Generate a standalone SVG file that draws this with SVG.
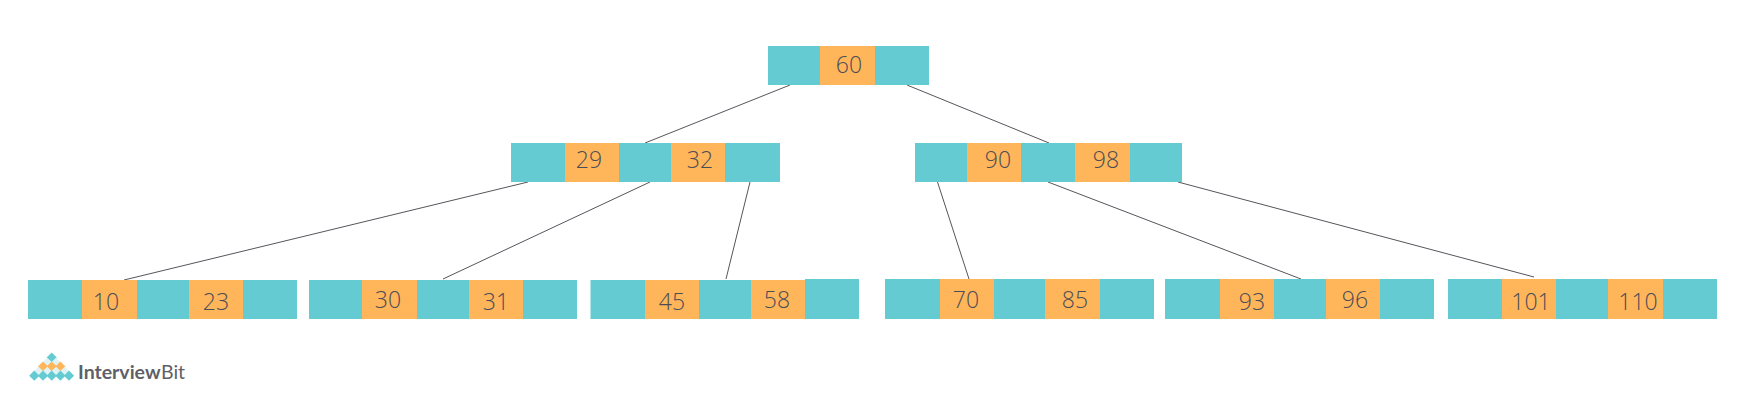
<svg xmlns="http://www.w3.org/2000/svg" width="1746" height="420" viewBox="0 0 1746 420">
<style>
.t{fill:#64cbd2}.o{fill:#ffb55a}
.n{font-family:"Open Sans","Noto Sans",sans-serif;font-weight:300;font-size:23px;fill:#4c4c56;text-anchor:middle}
#connectors line{stroke:#55555c;stroke-width:1}
.dt{fill:#64cbd2}.do{fill:#ffb55a}.dl{fill:#dff3f4}
.lg{font-family:Lato,"Noto Sans",sans-serif;font-size:19.500px;fill:#5f5f68}
</style>
<defs><rect id="d" x="-5" y="-5" width="10" height="10" transform="rotate(45)"/></defs>
<rect width="1746" height="420" fill="#fff"/>
<g id="connectors">
<line x1="790" y1="85" x2="645" y2="143"/><line x1="907" y1="85" x2="1049" y2="143"/>
<line x1="528" y1="182" x2="124" y2="280"/><line x1="650" y1="182" x2="443" y2="279"/><line x1="750" y1="182" x2="726" y2="279"/>
<line x1="937.500" y1="182" x2="969" y2="279"/><line x1="1048" y1="182" x2="1301" y2="279"/><line x1="1178" y1="182" x2="1534" y2="277"/>
</g>
<g id="n60"><rect class="t" x="768" y="46" width="161" height="39"/><rect class="o" x="820" y="46" width="55" height="39"/><text class="n" x="849" y="73">60</text></g>
<g id="n29-32"><rect class="t" x="511" y="143" width="269" height="39"/><rect class="o" x="565" y="143" width="54" height="39"/><rect class="o" x="671" y="143" width="54" height="39"/><text class="n" x="589" y="168">29</text><text class="n" x="700" y="168">32</text></g>
<g id="n90-98"><rect class="t" x="915" y="143" width="267" height="39"/><rect class="o" x="967" y="143" width="54" height="39"/><rect class="o" x="1075" y="143" width="55" height="39"/><text class="n" x="998" y="168">90</text><text class="n" x="1106" y="168">98</text></g>
<g id="n10-23"><rect class="t" x="28" y="280" width="269" height="39"/><rect class="o" x="82" y="280" width="55" height="39"/><rect class="o" x="189" y="280" width="54" height="39"/><text class="n" x="106" y="310">10</text><text class="n" x="216" y="310">23</text></g>
<g id="n30-31"><rect class="t" x="309" y="280" width="268" height="39"/><rect class="o" x="362" y="280" width="55" height="39"/><rect class="o" x="469" y="280" width="54" height="39"/><text class="n" x="388" y="308">30</text><text class="n" x="496" y="310">31</text></g>
<g id="n45-58"><rect class="t" x="590.500" y="280" width="215" height="39"/><rect class="t" x="805" y="279" width="54" height="40"/><rect class="o" x="645" y="280" width="54" height="39"/><rect class="o" x="751" y="280" width="54" height="39"/><text class="n" x="672" y="310">45</text><text class="n" x="777" y="308">58</text></g>
<g id="n70-85"><rect class="t" x="885" y="279" width="269" height="40"/><rect class="o" x="940" y="279" width="54" height="40"/><rect class="o" x="1045" y="279" width="55" height="40"/><text class="n" x="966" y="308">70</text><text class="n" x="1075" y="308">85</text></g>
<g id="n93-96"><rect class="t" x="1165" y="279" width="269" height="40"/><rect class="o" x="1220" y="279" width="54" height="40"/><rect class="o" x="1326" y="279" width="54" height="40"/><text class="n" x="1252" y="310">93</text><text class="n" x="1355" y="308">96</text></g>
<g id="n101-110"><rect class="t" x="1448" y="279" width="269" height="40"/><rect class="o" x="1502" y="279" width="54" height="40"/><rect class="o" x="1608" y="279" width="55" height="40"/><text class="n" x="1531" y="310">101</text><text class="n" x="1638" y="310">110</text></g>
<g id="logo">
<use href="#d" class="dt" transform="translate(51.7 357.500) scale(.72)"/>
<use href="#d" class="dl" transform="translate(47.300 362) scale(.6)"/><use href="#d" class="dl" transform="translate(56 362) scale(.6)"/>
<use href="#d" class="do" transform="translate(43 366.500) scale(.72)"/><use href="#d" class="do" transform="translate(51.7 366.500) scale(.72)"/><use href="#d" class="do" transform="translate(60.400 366.500) scale(.72)"/>
<use href="#d" class="dl" transform="translate(38.600 371) scale(.6)"/><use href="#d" class="dl" transform="translate(47.300 371) scale(.6)"/><use href="#d" class="dl" transform="translate(56 371) scale(.6)"/><use href="#d" class="dl" transform="translate(64.700 371) scale(.6)"/>
<use href="#d" class="dt" transform="translate(34.300 375.700) scale(.72)"/><use href="#d" class="dt" transform="translate(43 375.700) scale(.72)"/><use href="#d" class="dt" transform="translate(51.7 375.700) scale(.72)"/><use href="#d" class="dt" transform="translate(60.400 375.700) scale(.72)"/><use href="#d" class="dt" transform="translate(69 375.700) scale(.72)"/>
<text class="lg" x="78" y="379" font-weight="700">Interview</text>
<text class="lg" x="161" y="379">Bit</text>
</g>
</svg>
